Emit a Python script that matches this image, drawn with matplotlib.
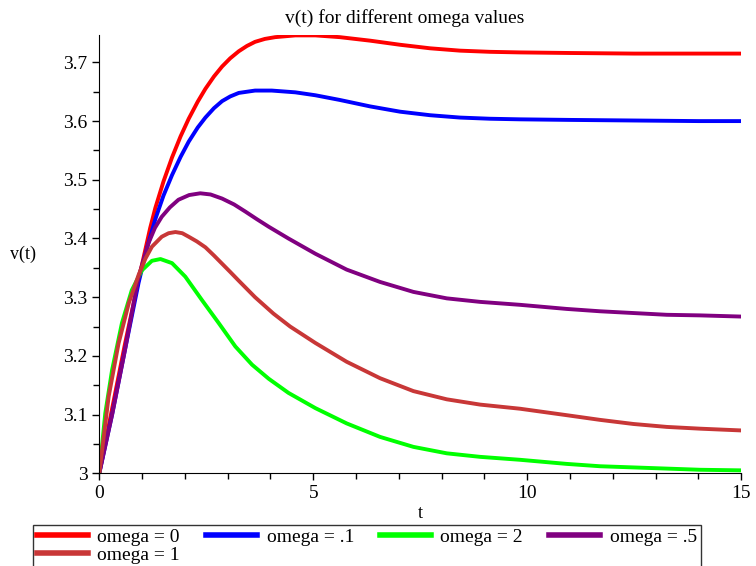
import matplotlib
matplotlib.use("Agg")
import matplotlib.pyplot as plt
from matplotlib.ticker import MultipleLocator

plt.rcParams["font.family"] = ["Liberation Serif", "DejaVu Serif"]

# ── data ──────────────────────────────────────────────────────────────────
t_w0 = [0, 0.3, 0.6, 0.92, 1.19, 1.31, 1.50, 1.70, 1.90, 2.09, 2.30, 2.48, 2.68,
        2.87, 3.06, 3.26, 3.45, 3.64, 3.87, 4.11, 4.58, 5.05, 5.62, 6.33, 7.03,
        7.73, 8.43, 9.13, 9.83, 11.0, 12.5, 14.0, 15.0]
v_w0 = [3.0, 3.11, 3.22, 3.33, 3.418, 3.452, 3.497, 3.538, 3.574, 3.604, 3.633, 3.655, 3.676,
        3.693, 3.707, 3.719, 3.728, 3.735, 3.740, 3.743, 3.746, 3.746, 3.743, 3.737, 3.730,
        3.724, 3.720, 3.718, 3.717, 3.716, 3.715, 3.715, 3.715]

t_w01 = [0, 0.3, 0.6, 0.92, 1.12, 1.31, 1.50, 1.70, 1.90, 2.09, 2.30, 2.48, 2.68,
         2.87, 3.06, 3.26, 3.64, 4.03, 4.58, 5.05, 5.62, 6.33, 7.03, 7.73, 8.43,
         9.13, 9.83, 11.0, 12.5, 14.0, 15.0]
v_w01 = [3.0, 3.10, 3.21, 3.325, 3.385, 3.433, 3.473, 3.508, 3.539, 3.565, 3.589, 3.606, 3.622,
         3.634, 3.642, 3.648, 3.652, 3.652, 3.649, 3.644, 3.636, 3.625, 3.616, 3.610, 3.606,
         3.604, 3.603, 3.602, 3.601, 3.600, 3.600]

t_w2 = [0, 0.14, 0.30, 0.53, 0.76, 1.00, 1.23, 1.43, 1.70, 2.01, 2.40, 2.79, 3.18,
        3.57, 3.96, 4.42, 5.05, 5.78, 6.56, 7.34, 8.12, 8.90, 9.83, 10.92, 11.70,
        12.48, 13.26, 14.04, 15.0]
v_w2 = [3.0, 3.102, 3.176, 3.256, 3.312, 3.346, 3.362, 3.365, 3.358, 3.335, 3.295, 3.256, 3.216,
        3.185, 3.161, 3.137, 3.111, 3.085, 3.062, 3.045, 3.034, 3.028, 3.023, 3.016, 3.012,
        3.010, 3.008, 3.006, 3.005]

t_w05 = [0, 0.3, 0.6, 0.92, 1.15, 1.30, 1.46, 1.65, 1.85, 2.10, 2.36, 2.60, 2.87,
         3.15, 3.41, 3.68, 3.96, 4.42, 5.05, 5.78, 6.56, 7.34, 8.12, 8.90, 9.83,
         10.92, 11.70, 12.48, 13.26, 14.04, 15.0]
v_w05 = [3.0, 3.10, 3.21, 3.335, 3.392, 3.418, 3.437, 3.453, 3.466, 3.474, 3.477, 3.475, 3.468,
         3.458, 3.446, 3.433, 3.420, 3.400, 3.374, 3.347, 3.326, 3.309, 3.298, 3.292, 3.287,
         3.280, 3.276, 3.273, 3.270, 3.269, 3.267]

t_w1 = [0, 0.22, 0.45, 0.69, 0.92, 1.08, 1.23, 1.46, 1.62, 1.78, 1.94, 2.09, 2.28,
        2.48, 2.68, 2.87, 3.06, 3.26, 3.45, 3.64, 4.07, 4.46, 5.05, 5.78, 6.56,
        7.34, 8.12, 8.90, 9.83, 10.92, 11.70, 12.48, 13.26, 14.04, 15.0]
v_w1 = [3.0, 3.131, 3.221, 3.290, 3.338, 3.366, 3.386, 3.403, 3.409, 3.411, 3.409, 3.403, 3.395,
        3.385, 3.371, 3.357, 3.343, 3.328, 3.314, 3.300, 3.272, 3.250, 3.222, 3.190, 3.162,
        3.140, 3.126, 3.117, 3.110, 3.099, 3.091, 3.084, 3.079, 3.076, 3.073]

series = [
    ("omega = 0",  t_w0,  v_w0,  "#ff0000"),
    ("omega = .1", t_w01, v_w01, "#0000ff"),
    ("omega = 2",  t_w2,  v_w2,  "#00ff00"),
    ("omega = .5", t_w05, v_w05, "#800080"),
    ("omega = 1",  t_w1,  v_w1,  "#c83737"),
]

fig = plt.figure(figsize=(7.56, 5.66), dpi=100)
ax = fig.add_axes([0.1313, 0.1638, 0.8492, 0.7744])

lines = {}
for label, t, v, c in series:
    lines[label], = ax.plot(t, v, color=c, lw=2.8, label=label,
                            solid_joinstyle="round")

ax.set_xlim(0, 15)
ax.set_ylim(3.0, 3.7467)
ax.spines["top"].set_visible(False)
ax.spines["right"].set_visible(False)
ax.xaxis.set_minor_locator(MultipleLocator(1))
ax.yaxis.set_minor_locator(MultipleLocator(0.05))
ax.set_yticks([3.0, 3.1, 3.2, 3.3, 3.4, 3.5, 3.6, 3.7])
ax.set_yticklabels(["3", "3.1", "3.2", "3.3", "3.4", "3.5", "3.6", "3.7"])
ax.set_xticks([0, 5, 10, 15])
ax.set_xticklabels(["0", "5", "10", "15"])
ax.tick_params(which="both", direction="out", length=5, width=1, labelsize=14)
ax.tick_params(which="minor", length=4)

ax.set_title("v(t) for different omega values", fontsize=14, pad=9, x=0.475)
ax.set_xlabel("t", fontsize=13, labelpad=2)
ax.set_ylabel("v(t)", fontsize=13, rotation=0, ha="center", va="center")
ax.yaxis.set_label_coords(-0.119, 0.5)

# row-wise order: 0, .1, 2, .5 / 1  (matplotlib fills columns first)
order = ["omega = 0", "omega = 1", "omega = .1", "omega = 2", "omega = .5"]
leg = fig.legend([lines[k] for k in order], order, loc="upper left",
                 bbox_to_anchor=(0.044, 0.073), ncol=4,
                 fontsize=14, frameon=True, fancybox=False, edgecolor="black",
                 handlelength=2.6, handletextpad=0.5, columnspacing=1.35,
                 borderpad=0.2, labelspacing=0.0, borderaxespad=0)
leg.get_frame().set_linewidth(1.0)
for h in leg.get_lines():
    h.set_linewidth(4)

fig.savefig("out.png", dpi=100)
